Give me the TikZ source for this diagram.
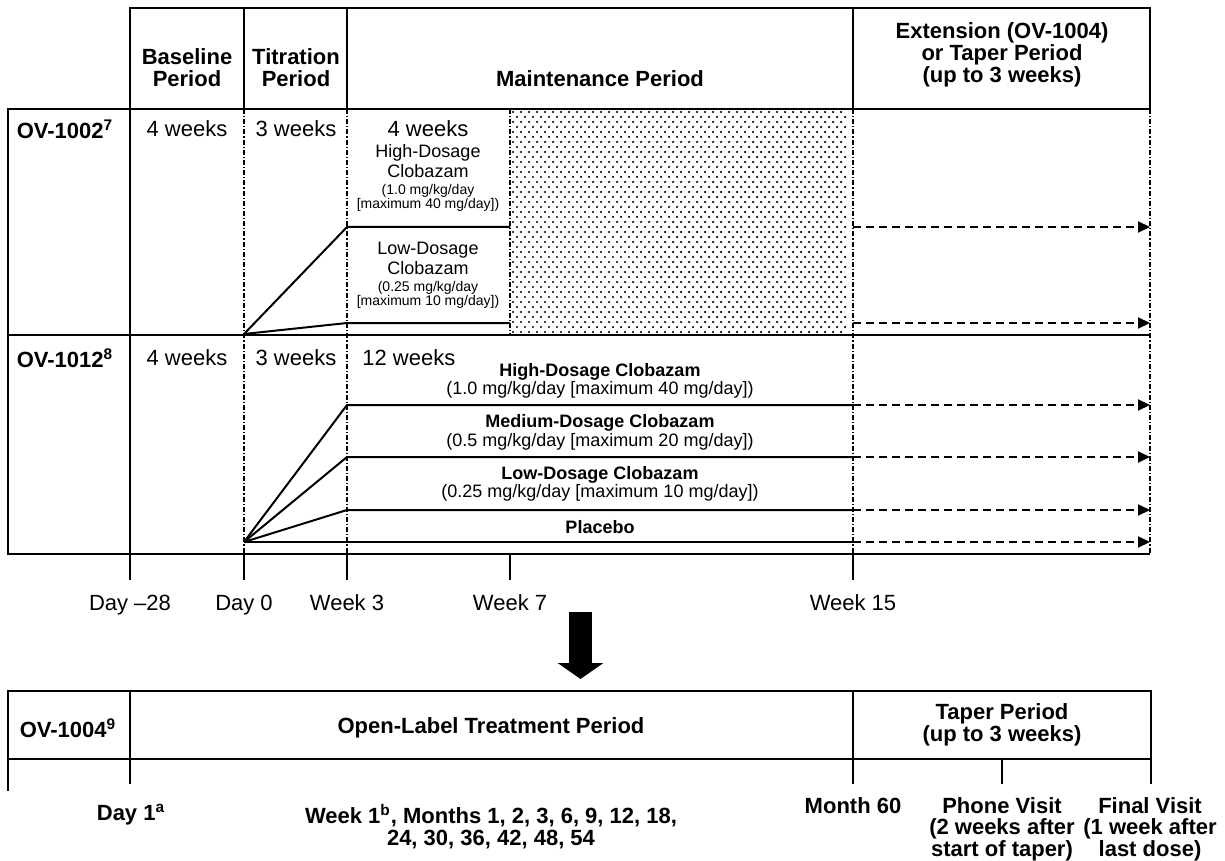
\documentclass[tikz,border=0pt]{standalone}
\usepackage{fontspec}
\setmainfont{Liberation Sans}
\usepackage{tikz}
\usetikzlibrary{arrows.meta}

\begin{document}
\begin{tikzpicture}[x=0.5pt,y=-0.5pt,
        frame/.style={line width=1pt},
        cut/.style={line width=0.8pt, dash pattern=on 2.5pt off 1pt on 0.6pt off 1pt},
        ramp/.style={line width=1pt},
        ext/.style={line width=1pt, dash pattern=on 4pt off 2.5pt, -{Triangle[length=6pt,width=5.5pt]}},
        head/.style={font=\bfseries\fontsize{11}{11}\selectfont, align=center},
        weeks/.style={font=\fontsize{11}{13}\selectfont},
        drug/.style={font=\fontsize{9}{10}\selectfont, align=center},
        mgsmall/.style={font=\fontsize{7}{7.2}\selectfont, align=center},
        drugbold/.style={font=\bfseries\fontsize{9}{10}\selectfont},
        mgtxt/.style={font=\fontsize{9}{10}\selectfont},
        visit/.style={font=\bfseries\fontsize{11}{10.75}\selectfont, align=center, anchor=north, inner sep=0pt}]
                \useasboundingbox (0,0) rectangle (1225,861);

                %stipple
                \foreach \r in {0,...,44}
                \foreach \c in {0,...,41}
                \fill ({513+mod(\r,2)*4+\c*8},{112+\r*5}) circle (0.62pt);

                % header
                \draw[frame] (130,8) rectangle (1150,109);
                \foreach \x in {244,347,853}
                \draw[frame] (\x,8) -- (\x,109);
                \node[head] (hbase) at (187,68) {Baseline\\Period};
                \node[head] (htitr) at (296,68) {Titration\\Period};
                \node[head] (hmaint) at (600,79) {Maintenance Period};
                \node[head] (hext) at (1002,55) {Extension (OV-1004)\\or Taper Period\\(up to 3 weeks)};

                % rows
                \draw[frame] (130,109) -- (8,109) -- (8,554) -- (1150,554);
                \draw[frame] (8,335) -- (1150,335);
                \draw[frame] (130,109) -- (130,580);
                \foreach \x in {244,347,853,1150}
                \draw[cut] (\x,109) -- (\x,554);
                \draw[cut] (510,109) -- (510,335);
                \foreach \x in {244,347,510,853}
                \draw[frame] (\x,554) -- (\x,580);

                %OV-1002
                \node[head] (study1) at (65,129) {OV-1002\textsuperscript{7}};
                \node[weeks] (base1) at (187,129) {4 weeks};
                \node[weeks] (titr1) at (296,129) {3 weeks};
                \node[weeks] (main1) at (428,129) {4 weeks};
                \node[drug] (hi1) at (428,161) {High-Dosage\\Clobazam};
                \node[mgsmall] (hi1mg) at (428,198) {(1.0 mg/kg/day\\{[maximum 40 mg/day])}};
                \node[drug] (lo1) at (428,258) {Low-Dosage\\Clobazam};
                \node[mgsmall] (lo1mg) at (428,295) {(0.25 mg/kg/day\\{[maximum 10 mg/day])}};
                \coordinate (start1) at (244,334);
                \foreach \n/\y in {hi/227, lo/323}{
                    \coordinate (a1\n) at (347,\y);
                    \coordinate (b1\n) at (510,\y);
                    \coordinate (c1\n) at (853,\y);
                    \coordinate (d1\n) at (1150,\y);
                    \draw[ramp] (start1) -- (a1\n) -- (b1\n);
                    \draw[ext] (c1\n) -- (d1\n);
                }

                %OV-1012
                \node[head] (study2) at (65,358) {OV-1012\textsuperscript{8}};
                \node[weeks] (base2) at (187,358) {4 weeks};
                \node[weeks] (titr2) at (296,358) {3 weeks};
                \node[weeks, anchor=west, inner sep=0pt] (main2) at (362,358) {12 weeks};
                \node[drugbold] (hi2) at (600,372) {High-Dosage Clobazam};
                \node[mgtxt] (hi2mg) at (600,390) {(1.0 mg/kg/day [maximum 40 mg/day])};
                \node[drugbold] (med2) at (600,423) {Medium-Dosage Clobazam};
                \node[mgtxt] (med2mg) at (600,442) {(0.5 mg/kg/day [maximum 20 mg/day])};
                \node[drugbold] (lo2) at (600,475) {Low-Dosage Clobazam};
                \node[mgtxt] (lo2mg) at (600,493) {(0.25 mg/kg/day [maximum 10 mg/day])};
                \node[drugbold] (pla2) at (600,527) {Placebo};
                \coordinate (start2) at (244,542);
                \foreach \n/\y in {hi/405, med/457, lo/510, pla/542}{
                    \coordinate (a2\n) at (347,\y);
                    \coordinate (c2\n) at (853,\y);
                    \coordinate (d2\n) at (1150,\y);
                    \draw[ramp] (start2) -- (a2\n) -- (c2\n);
                    \draw[ext] (c2\n) -- (d2\n);
                }

                % time axis
                \foreach \x/\t/\nm in {130/Day --28/tday28, 244/Day 0/tday0, 347/Week 3/tweek3, 510/Week 7/tweek7, 853/Week 15/tweek15}
                \node[weeks, anchor=base] (\nm) at (\x,610) {\t};

                %arrow
                \coordinate (bigtop) at (580.5,612);
                \coordinate (bigtip) at (580.5,679);
                \draw[line width=11.5pt, -{Triangle[length=8pt,width=22.5pt]}] (bigtop) -- (bigtip);

                %OV-1004
                \draw[frame] (8,691) rectangle (1151,759);
                \draw[frame] (8,691) -- (8,791);
                \foreach \x in {130,853,1151}
                \draw[frame] (\x,691) -- (\x,784);
                \draw[frame] (1002,759) -- (1002,784);
                \node[head] (study3) at (68,728) {OV-1004\textsuperscript{9}};
                \node[head] (open) at (491,728) {Open-Label Treatment Period};
                \node[head] (taper) at (1002,725) {Taper Period\\(up to 3 weeks)};
                \node[visit] (day1) at (131,804) {Day 1\textsuperscript{a}};
                \node[visit] (visits) at (491,804) {Week 1\textsuperscript{b}, Months 1, 2, 3, 6, 9, 12, 18,\\24, 30, 36, 42, 48, 54};
                \node[visit] (month60) at (853,797) {Month 60};
                \node[visit] (phone) at (1002,797) {Phone Visit\\(2 weeks after\\start of taper)};
                \node[visit] (final) at (1150,797) {Final Visit\\(1 week after\\last dose)};

            \end{tikzpicture}
\end{document}
